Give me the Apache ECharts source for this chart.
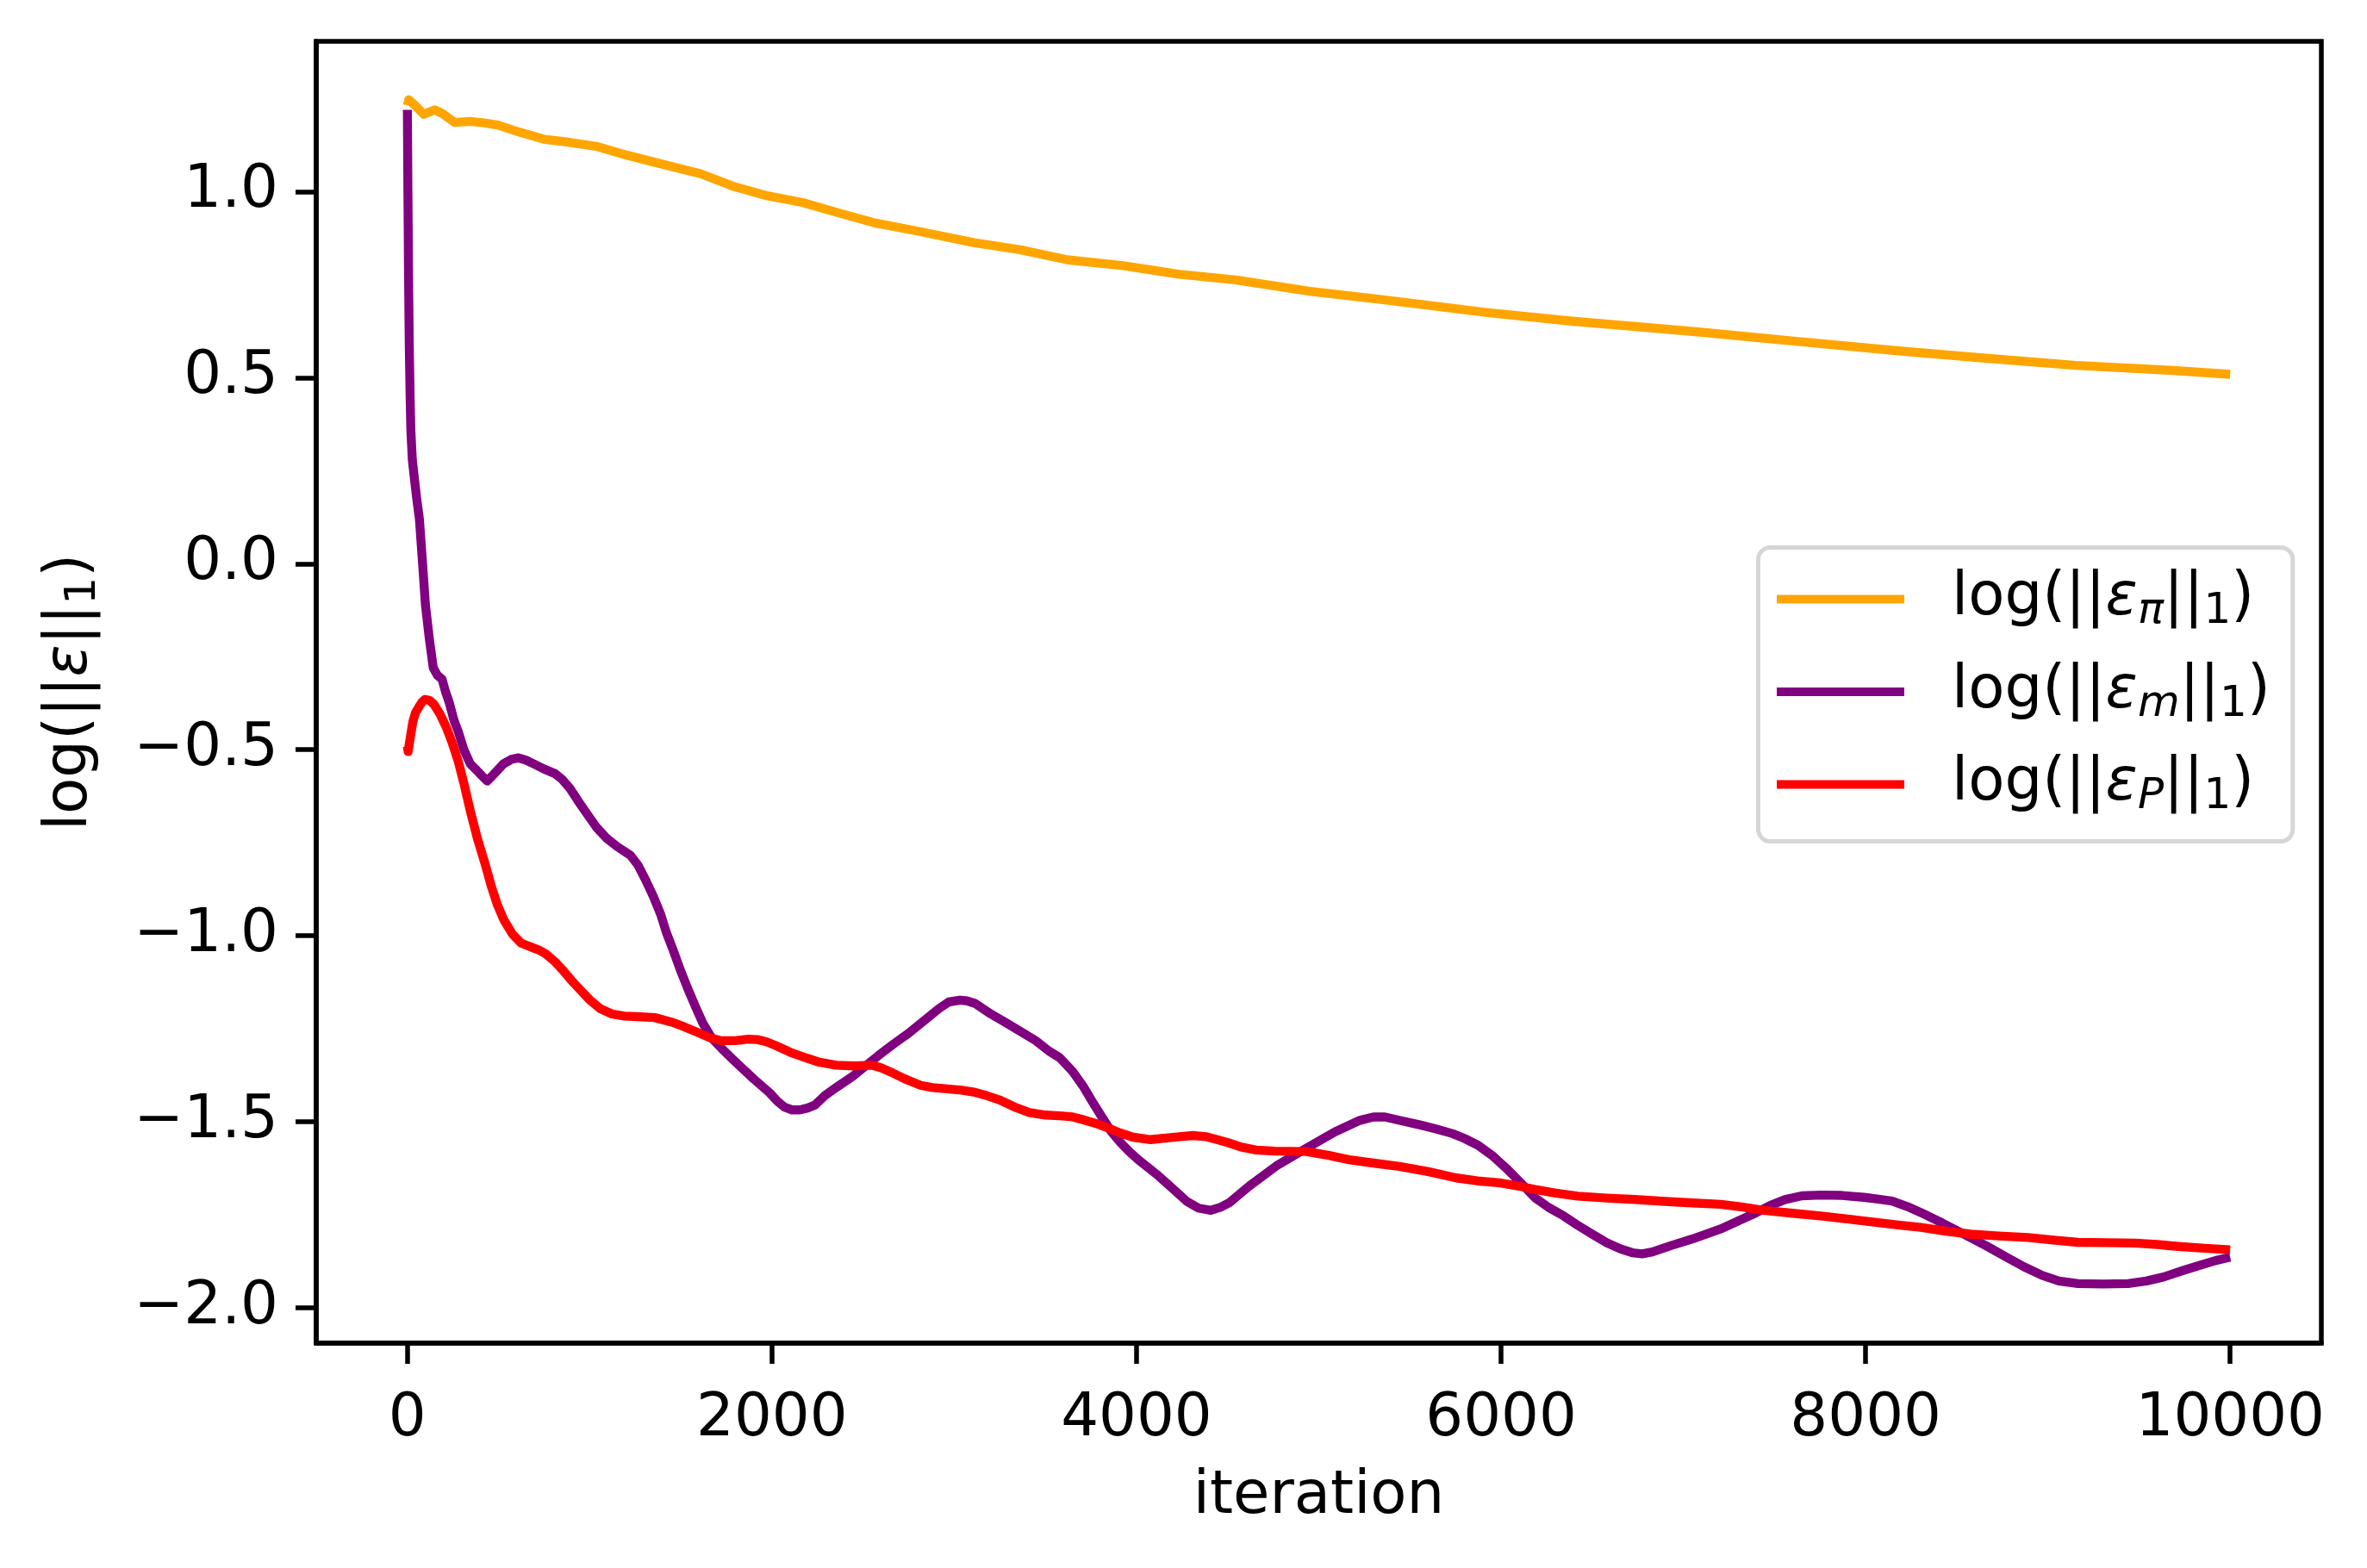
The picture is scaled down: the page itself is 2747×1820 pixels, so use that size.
<!DOCTYPE html>
<html>
<head>
<meta charset="utf-8">
<script src="https://cdn.jsdelivr.net/npm/echarts@6/dist/echarts.min.js"></script>
<style>
html,body{margin:0;padding:0;background:#fff;}
#chart{width:2747px;height:1820px;}
</style>
</head>
<body>
<div id="chart"></div>
<script>
// ---- data ----
const seriesNames = ['log(||ε_π||_1)', 'log(||ε_m||_1)', 'log(||ε_P||_1)'];
const xTicks = [0, 2000, 4000, 6000, 8000, 10000];
const yTicks = [-2.0, -1.5, -1.0, -0.5, 0.0, 0.5, 1.0];

const errPi = [[0,1.232],[8,1.247],[40,1.233],[90,1.208],[150,1.220],[192,1.210],[259,1.186],[344,1.189],[420,1.185],[496,1.179],[614,1.160],[749,1.141],[884,1.133],[1035,1.122],[1205,1.098],[1357,1.079],[1610,1.048],[1796,1.013],[1965,0.990],[2167,0.971],[2387,0.940],[2556,0.917],[2799,0.894],[3107,0.863],[3362,0.844],[3619,0.817],[3927,0.801],[4235,0.778],[4542,0.763],[4952,0.732],[5362,0.709],[5926,0.675],[6388,0.652],[6849,0.633],[7105,0.622],[7617,0.598],[8180,0.572],[8643,0.553],[9155,0.533],[9668,0.520],[10000,0.509]];

const errM = [[0,1.22],[3,1.0],[6,0.8],[10,0.6],[15,0.45],[19,0.36],[27,0.28],[36,0.24],[50,0.18],[66,0.12],[82,0.01],[99,-0.11],[120,-0.2],[142,-0.28],[165,-0.3],[190,-0.31],[210,-0.345],[229,-0.372],[255,-0.42],[279,-0.451],[310,-0.5],[345,-0.538],[380,-0.555],[411,-0.571],[438,-0.584],[470,-0.568],[527,-0.538],[570,-0.526],[610,-0.522],[650,-0.528],[693,-0.538],[750,-0.552],[809,-0.564],[850,-0.58],[892,-0.604],[940,-0.64],[992,-0.677],[1040,-0.71],[1091,-0.737],[1150,-0.76],[1224,-0.784],[1265,-0.81],[1307,-0.85],[1350,-0.895],[1390,-0.943],[1420,-0.99],[1456,-1.036],[1500,-1.095],[1539,-1.143],[1580,-1.19],[1622,-1.236],[1670,-1.275],[1722,-1.302],[1770,-1.325],[1821,-1.349],[1900,-1.385],[1987,-1.422],[2030,-1.445],[2070,-1.461],[2110,-1.468],[2153,-1.468],[2195,-1.463],[2236,-1.455],[2290,-1.43],[2352,-1.408],[2451,-1.375],[2584,-1.322],[2670,-1.29],[2750,-1.262],[2830,-1.23],[2916,-1.196],[2970,-1.178],[3032,-1.173],[3070,-1.175],[3115,-1.182],[3200,-1.21],[3281,-1.233],[3360,-1.256],[3447,-1.282],[3520,-1.31],[3579,-1.328],[3650,-1.365],[3712,-1.408],[3760,-1.448],[3811,-1.488],[3860,-1.525],[3911,-1.555],[3960,-1.58],[4010,-1.602],[4110,-1.641],[4200,-1.68],[4276,-1.714],[4340,-1.732],[4408,-1.738],[4460,-1.73],[4508,-1.718],[4618,-1.673],[4775,-1.616],[4932,-1.571],[5089,-1.527],[5226,-1.496],[5300,-1.487],[5363,-1.487],[5450,-1.497],[5559,-1.509],[5650,-1.52],[5735,-1.532],[5800,-1.545],[5873,-1.563],[5950,-1.59],[6029,-1.625],[6110,-1.665],[6186,-1.704],[6260,-1.73],[6343,-1.753],[6420,-1.778],[6500,-1.802],[6580,-1.825],[6657,-1.842],[6720,-1.852],[6774,-1.855],[6830,-1.85],[6931,-1.833],[7050,-1.815],[7205,-1.788],[7300,-1.767],[7401,-1.744],[7480,-1.724],[7558,-1.709],[7650,-1.699],[7754,-1.697],[7870,-1.698],[7990,-1.703],[8070,-1.708],[8146,-1.713],[8230,-1.728],[8303,-1.744],[8420,-1.772],[8538,-1.802],[8660,-1.833],[8773,-1.864],[8870,-1.89],[8969,-1.913],[9060,-1.928],[9165,-1.935],[9300,-1.936],[9440,-1.935],[9540,-1.928],[9636,-1.917],[9740,-1.9],[9832,-1.886],[9920,-1.873],[10000,-1.864]];

const errP = [[0,-0.491],[4,-0.505],[15,-0.47],[30,-0.425],[45,-0.4],[63,-0.385],[80,-0.372],[96,-0.365],[120,-0.367],[146,-0.378],[180,-0.405],[212,-0.438],[245,-0.48],[279,-0.531],[310,-0.59],[345,-0.664],[385,-0.74],[428,-0.81],[460,-0.866],[494,-0.917],[530,-0.958],[577,-0.996],[625,-1.02],[677,-1.030],[720,-1.038],[760,-1.049],[810,-1.07],[859,-1.096],[900,-1.12],[942,-1.142],[1000,-1.172],[1058,-1.196],[1120,-1.21],[1191,-1.216],[1280,-1.218],[1357,-1.220],[1456,-1.233],[1520,-1.245],[1589,-1.259],[1660,-1.274],[1722,-1.282],[1800,-1.282],[1870,-1.278],[1921,-1.279],[1970,-1.285],[2020,-1.295],[2100,-1.313],[2186,-1.328],[2260,-1.34],[2352,-1.348],[2450,-1.35],[2551,-1.348],[2600,-1.355],[2650,-1.366],[2730,-1.385],[2816,-1.402],[2880,-1.408],[2949,-1.411],[3040,-1.415],[3115,-1.421],[3180,-1.43],[3247,-1.441],[3330,-1.46],[3413,-1.475],[3500,-1.482],[3579,-1.484],[3650,-1.487],[3712,-1.495],[3780,-1.505],[3845,-1.517],[3910,-1.53],[3977,-1.541],[4077,-1.548],[4200,-1.542],[4309,-1.537],[4380,-1.54],[4442,-1.548],[4501,-1.556],[4574,-1.568],[4657,-1.576],[4760,-1.579],[4932,-1.58],[5050,-1.59],[5167,-1.602],[5300,-1.611],[5442,-1.620],[5600,-1.634],[5755,-1.651],[5870,-1.659],[5990,-1.664],[6100,-1.673],[6186,-1.682],[6300,-1.692],[6421,-1.700],[6580,-1.705],[6735,-1.709],[6900,-1.714],[7049,-1.718],[7205,-1.722],[7320,-1.729],[7440,-1.738],[7600,-1.746],[7754,-1.753],[7910,-1.762],[8068,-1.771],[8190,-1.778],[8303,-1.784],[8440,-1.794],[8577,-1.802],[8730,-1.807],[8891,-1.811],[9030,-1.818],[9165,-1.824],[9320,-1.825],[9479,-1.826],[9600,-1.83],[9714,-1.835],[9860,-1.84],[10000,-1.844]];

const colors = ['#FFA500', '#800080', '#FF0000'];

// ---- chart ----
const FONT = 'DejaVu Sans';
const FS = 69;
const richStyles = {
  g: {width: 50, fontSize: FS, lineHeight: 80, fontFamily: FONT},
  a: {fontSize: FS, lineHeight: 80, fontFamily: FONT, color: '#000'},
  e: {fontSize: FS, lineHeight: 80, fontFamily: FONT, fontStyle: 'italic', color: '#000'},
  s: {fontSize: 50, lineHeight: 80, height: 40, padding: [30, 0, 0, 0], fontFamily: FONT, fontStyle: 'italic', color: '#000'},
  b: {fontSize: 50, lineHeight: 80, height: 40, padding: [30, 0, 0, 0], fontFamily: FONT, color: '#000'}
};
const legendMarkup = {};
legendMarkup[seriesNames[0]] = '{g| }{a|log(||}{e|ε}{s|π}{a|||}{b|1}{a|)}';
legendMarkup[seriesNames[1]] = '{g| }{a|log(||}{e|ε}{s|m}{a|||}{b|1}{a|)}';
legendMarkup[seriesNames[2]] = '{g| }{a|log(||}{e|ε}{s|P}{a|||}{b|1}{a|)}';

function fmt(v) {
  const s = Math.abs(v).toFixed(1);
  return v < 0 ? '\u2212' + s : s;
}

const chart = echarts.init(document.getElementById('chart'), null, {renderer: 'canvas'});
const datasets = [errPi, errM, errP];
chart.setOption({
  animation: false,
  backgroundColor: '#ffffff',
  textStyle: {fontFamily: FONT},
  grid: {left: 367, right: 53, top: 48, bottom: 261, show: true, borderColor: '#000', borderWidth: 5.5, backgroundColor: 'transparent'},
  xAxis: {
    type: 'value', min: -500, max: 10500,
    name: 'iteration', nameLocation: 'middle', nameGap: 145,
    nameTextStyle: {fontSize: FS, color: '#000', fontFamily: FONT},
    axisLine: {show: true, onZero: false, lineStyle: {color: '#000', width: 5.5}},
    splitLine: {show: false},
    axisTick: {show: true, inside: false, length: 24, lineStyle: {color: '#000', width: 5.5}, customValues: xTicks},
    axisLabel: {fontSize: FS, color: '#000', margin: 55, fontFamily: FONT, customValues: xTicks, formatter: v => String(Math.round(v))}
  },
  yAxis: {
    type: 'value', min: -2.095, max: 1.404,
    name: '{a|log(||}{e|ε}{a|||}{b|1}{a|)}', nameLocation: 'middle', nameGap: 245,
    nameTextStyle: {fontSize: FS, color: '#000', fontFamily: FONT, rich: richStyles},
    axisLine: {show: true, onZero: false, lineStyle: {color: '#000', width: 5.5}},
    splitLine: {show: false},
    axisTick: {show: true, inside: false, length: 24, lineStyle: {color: '#000', width: 5.5}, customValues: yTicks},
    axisLabel: {fontSize: FS, color: '#000', margin: 44, fontFamily: FONT, customValues: yTicks, formatter: fmt}
  },
  legend: {
    orient: 'vertical', left: 2040.5, top: 635.5,
    icon: 'rect', itemWidth: 148, itemHeight: 10, itemGap: 32.5,
    padding: [25, 26, 26, 21.5],
    backgroundColor: '#ffffff', borderColor: '#d6d6d6', borderWidth: 5, borderRadius: 14,
    data: seriesNames,
    formatter: name => legendMarkup[name],
    textStyle: {fontSize: FS, color: '#000', fontFamily: FONT, rich: richStyles}
  },
  series: datasets.map((d, i) => ({
    name: seriesNames[i], type: 'line', data: d, showSymbol: false, symbol: 'none',
    smooth: false, clip: true,
    lineStyle: {color: colors[i], width: 10.4, cap: 'butt', join: 'round'},
    itemStyle: {color: colors[i]}, z: 2 + i
  }))
});
</script>
</body>
</html>
